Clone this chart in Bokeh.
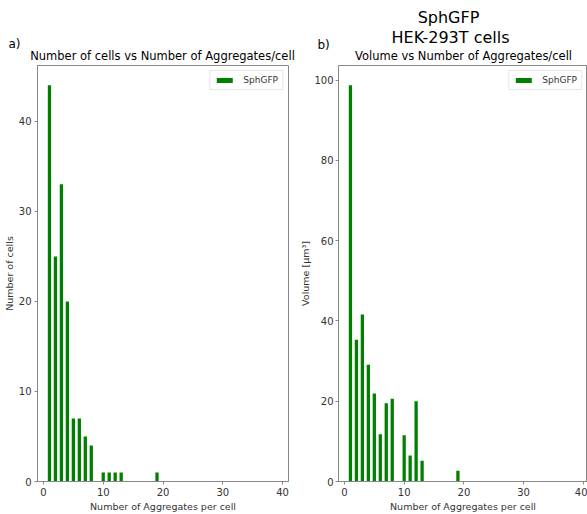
from bokeh.plotting import figure
from bokeh.models import FixedTicker, Range1d, Legend
from bokeh.layouts import row, column
from bokeh.core.properties import value
from bokeh.embed import file_html
from bokeh.resources import INLINE

# ---- data ----
aggregates_per_cell = [1, 2, 3, 4, 5, 6, 7, 8, 10, 11, 12, 13, 19]
number_of_cells = [44, 25, 33, 20, 7, 7, 5, 4, 1, 1, 1, 1, 1]
volume_um3 = [98.7, 35.3, 41.6, 29.1, 21.9, 11.8, 19.5, 20.6, 11.5, 6.5, 20.0, 5.2, 2.7]

x_ticks = [0, 10, 20, 30, 40]
cells_ticks = [0, 10, 20, 30, 40]
volume_ticks = [0, 20, 40, 60, 80, 100]

series_name = "SphGFP"
suptitle_lines = ["SphGFP", "HEK-293T cells"]
panel_letters = ["a)", "b)"]
panel_titles = ["Number of cells vs Number of Aggregates/cell",
                "Volume vs Number of Aggregates/cell"]
xlabel = "Number of Aggregates per cell"
ylabel_a = "Number of cells"
ylabel_b = "Volume [µm³]"

FONT = "DejaVu Sans"
AX = "#888888"
TXT = "#333333"

# ---- header (suptitle, panel letters and titles) ----
hdr = figure(width=587, height=64, output_backend="svg", toolbar_location=None,
             x_range=Range1d(0, 587), y_range=Range1d(64, 0),
             x_axis_location=None, y_axis_location=None, min_border=0)
hdr.grid.visible = False
hdr.outline_line_color = None
hdr.text(x=[448, 450], y=[17, 37], text=suptitle_lines, text_align="center",
         text_baseline="middle", text_font=value(FONT), text_font_size="16px",
         text_color="black")
hdr.text(x=[8, 317], y=[43, 44], text=panel_letters, text_align="left",
         text_baseline="middle", text_font=value(FONT), text_font_size="12px",
         text_color="black")
hdr.text(x=[162, 463], y=[55, 55], text=panel_titles, text_align="center",
         text_baseline="middle", text_font=value(FONT), text_font_size="11.5px",
         text_color="black")


def style(p, ylabel, yticks, label_standoff, tick_standoff):
    p.grid.visible = False
    p.outline_line_color = AX
    p.outline_line_width = 1
    for ax in (p.xaxis[0], p.yaxis[0]):
        ax.axis_line_color = AX
        ax.major_tick_line_color = AX
        ax.minor_tick_line_color = None
        ax.major_tick_out = 3
        ax.major_tick_in = 0
        ax.major_label_text_font = FONT
        ax.major_label_text_font_size = "10px"
        ax.major_label_text_color = TXT
        ax.axis_label_text_font = FONT
        ax.axis_label_text_font_size = "9.5px"
        ax.axis_label_text_font_style = "normal"
        ax.axis_label_text_color = TXT
        ax.major_label_standoff = 3
    p.yaxis[0].major_label_standoff = tick_standoff
    p.xaxis[0].ticker = FixedTicker(ticks=x_ticks)
    p.yaxis[0].ticker = FixedTicker(ticks=yticks)
    p.xaxis[0].axis_label = xlabel
    p.xaxis[0].axis_label_standoff = 2
    p.yaxis[0].axis_label = ylabel
    p.yaxis[0].axis_label_standoff = label_standoff


def add_legend(p, r):
    lg = Legend(items=[(series_name, [r])], location="top_right")
    lg.margin = 5
    lg.padding = 4
    lg.label_height = 9
    lg.glyph_height = 6
    lg.glyph_width = 20
    lg.label_standoff = 9
    lg.label_text_font = FONT
    lg.label_text_font_size = "9px"
    lg.label_text_color = TXT
    lg.border_line_color = "#d0d0d0"
    lg.background_fill_alpha = 0.8
    p.add_layout(lg, "center")


# ---- left plot ----
p1 = figure(width=295, height=450, output_backend="svg", toolbar_location=None,
            x_range=Range1d(-1, 41), y_range=Range1d(0, max(number_of_cells) * 1.05),
            min_border_left=36, min_border_right=7, min_border_top=1, min_border_bottom=32)
r1 = p1.vbar(x=aggregates_per_cell, top=number_of_cells, width=0.55,
             fill_color="green", line_color=None)
style(p1, ylabel_a, cells_ticks, 1, 3)
add_legend(p1, r1)

# ---- right plot ----
p2 = figure(width=292, height=450, output_backend="svg", toolbar_location=None,
            x_range=Range1d(-1, 40.7), y_range=Range1d(0, max(volume_um3) * 1.05),
            min_border_left=43, min_border_right=0, min_border_top=1, min_border_bottom=32)
r2 = p2.vbar(x=aggregates_per_cell, top=volume_um3, width=0.55,
             fill_color="green", line_color=None)
style(p2, ylabel_b, volume_ticks, 0, 2)
add_legend(p2, r2)

layout = column(hdr, row(p1, p2))
open("out.html", "w").write(file_html(layout, INLINE))
